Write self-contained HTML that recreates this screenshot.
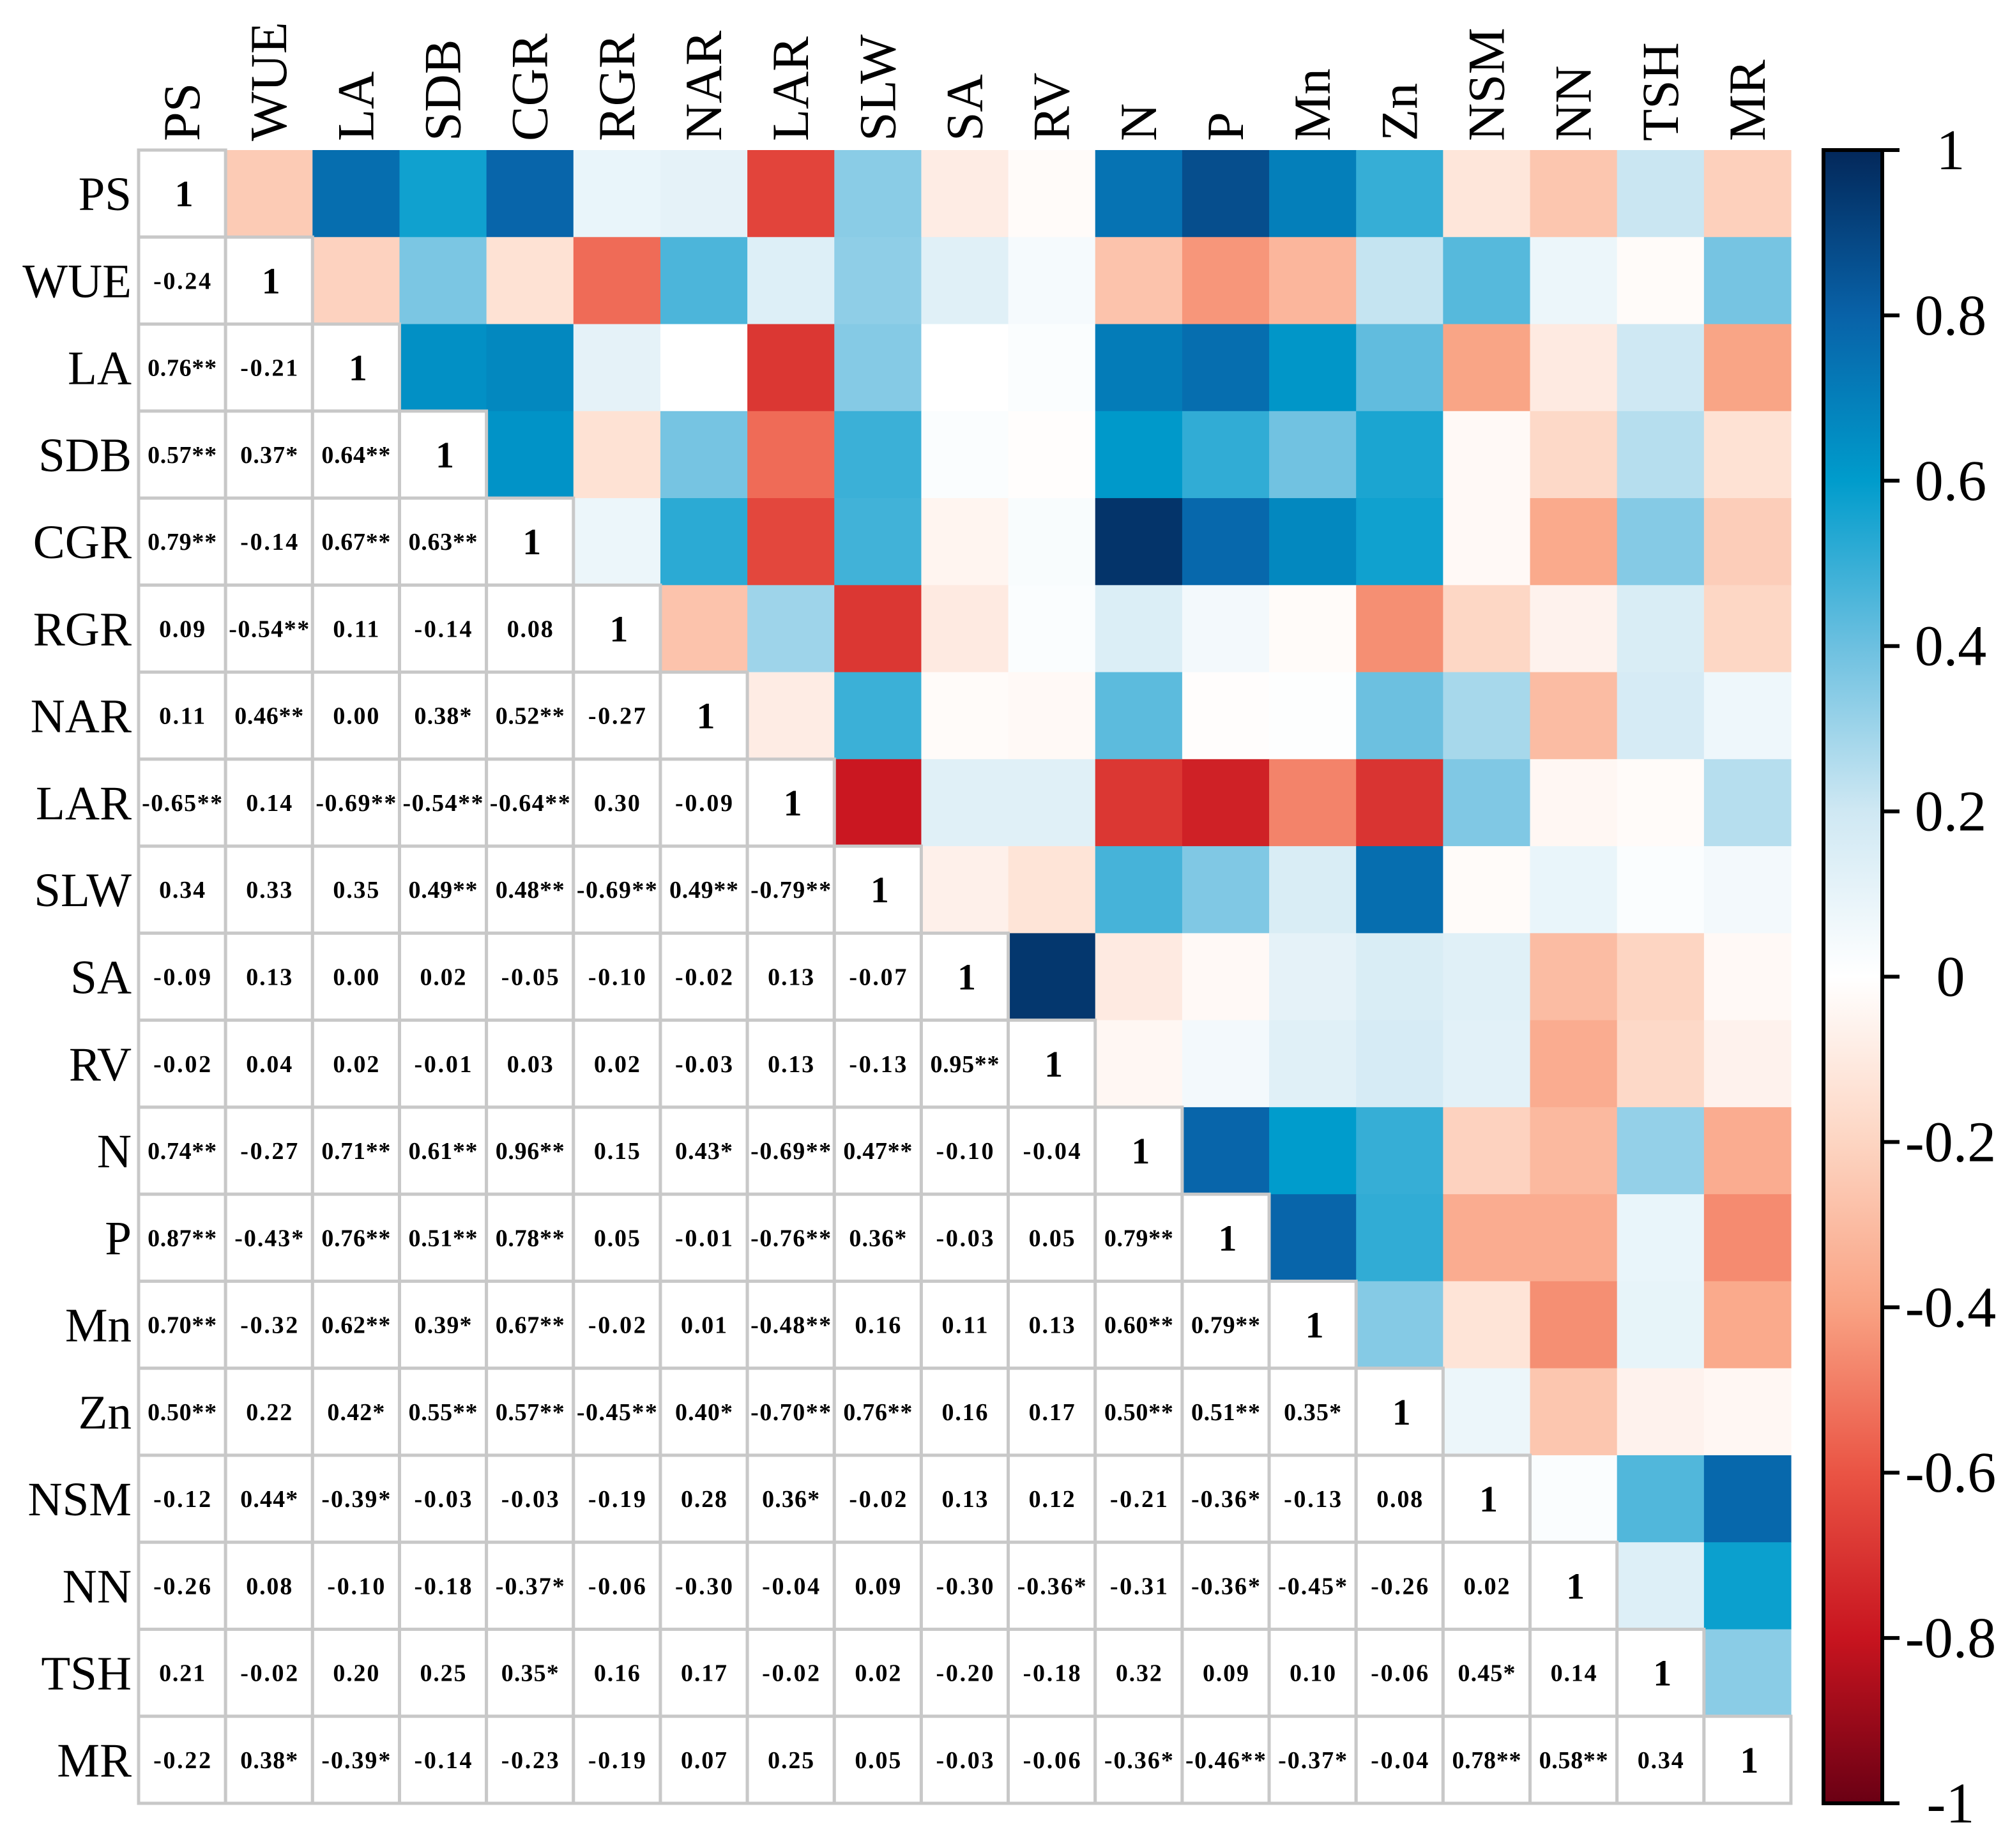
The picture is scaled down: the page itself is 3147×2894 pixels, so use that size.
<!DOCTYPE html>
<html><head><meta charset="utf-8"><style>
html,body{margin:0;padding:0;background:#fff;}
svg{display:block;}
text{font-family:"Liberation Serif",serif;fill:#000;}
</style></head><body>
<svg id="chart" width="3147" height="2894" viewBox="0 0 3147 2894" xmlns="http://www.w3.org/2000/svg">
<defs>
<linearGradient id="cbgrad" x1="0" y1="0" x2="0" y2="1">
<stop offset="0" stop-color="#03285a"/>
<stop offset="0.1" stop-color="#0862a8"/>
<stop offset="0.2" stop-color="#009ccc"/>
<stop offset="0.3" stop-color="#6cc0e0"/>
<stop offset="0.4" stop-color="#cfe8f3"/>
<stop offset="0.5" stop-color="#ffffff"/>
<stop offset="0.6" stop-color="#fdd5c2"/>
<stop offset="0.7" stop-color="#f9a283"/>
<stop offset="0.8" stop-color="#ea5444"/>
<stop offset="0.9" stop-color="#c8141f"/>
<stop offset="1" stop-color="#6a0014"/>
</linearGradient>
</defs>
<g id="cells"></g>
<g id="labels"></g>
<g id="cbar"></g>
</svg>
<script>
const variables = ["PS","WUE","LA","SDB","CGR","RGR","NAR","LAR","SLW","SA","RV","N","P","Mn","Zn","NSM","NN","TSH","MR"];
const lowerTriangle = [
[],
["-0.24"],
["0.76**","-0.21"],
["0.57**","0.37*","0.64**"],
["0.79**","-0.14","0.67**","0.63**"],
["0.09","-0.54**","0.11","-0.14","0.08"],
["0.11","0.46**","0.00","0.38*","0.52**","-0.27"],
["-0.65**","0.14","-0.69**","-0.54**","-0.64**","0.30","-0.09"],
["0.34","0.33","0.35","0.49**","0.48**","-0.69**","0.49**","-0.79**"],
["-0.09","0.13","0.00","0.02","-0.05","-0.10","-0.02","0.13","-0.07"],
["-0.02","0.04","0.02","-0.01","0.03","0.02","-0.03","0.13","-0.13","0.95**"],
["0.74**","-0.27","0.71**","0.61**","0.96**","0.15","0.43*","-0.69**","0.47**","-0.10","-0.04"],
["0.87**","-0.43*","0.76**","0.51**","0.78**","0.05","-0.01","-0.76**","0.36*","-0.03","0.05","0.79**"],
["0.70**","-0.32","0.62**","0.39*","0.67**","-0.02","0.01","-0.48**","0.16","0.11","0.13","0.60**","0.79**"],
["0.50**","0.22","0.42*","0.55**","0.57**","-0.45**","0.40*","-0.70**","0.76**","0.16","0.17","0.50**","0.51**","0.35*"],
["-0.12","0.44*","-0.39*","-0.03","-0.03","-0.19","0.28","0.36*","-0.02","0.13","0.12","-0.21","-0.36*","-0.13","0.08"],
["-0.26","0.08","-0.10","-0.18","-0.37*","-0.06","-0.30","-0.04","0.09","-0.30","-0.36*","-0.31","-0.36*","-0.45*","-0.26","0.02"],
["0.21","-0.02","0.20","0.25","0.35*","0.16","0.17","-0.02","0.02","-0.20","-0.18","0.32","0.09","0.10","-0.06","0.45*","0.14"],
["-0.22","0.38*","-0.39*","-0.14","-0.23","-0.19","0.07","0.25","0.05","-0.03","-0.06","-0.36*","-0.46**","-0.37*","-0.04","0.78**","0.58**","0.34"]
];
const colorbarTicks = [1,0.8,0.6,0.4,0.2,0,-0.2,-0.4,-0.6,-0.8,-1];
const colorbarTickLabels = ["1","0.8","0.6","0.4","0.2","0","-0.2","-0.4","-0.6","-0.8","-1"];

const NS = "http://www.w3.org/2000/svg";
const X0 = 217, X1 = 2804, Y0 = 235, Y1 = 2824;
const n = variables.length;
const cw = (X1 - X0) / n, ch = (Y1 - Y0) / n;
const xPos = j => X0 + j * cw;
const yPos = i => Y0 + i * ch;
const CB_X = 2855, CB_W = 92;
const cbY = v => Y0 + (1 - v) / 2 * (Y1 - Y0);

const stops = [[1,[3,40,90]],[0.8,[8,98,168]],[0.6,[0,156,204]],[0.4,[108,192,224]],[0.2,[207,232,243]],[0,[255,255,255]],[-0.2,[253,213,194]],[-0.4,[249,162,131]],[-0.6,[234,84,68]],[-0.8,[200,20,31]],[-1,[106,0,20]]];
function colorOf(v){
  v = Math.max(-1, Math.min(1, v));
  for (let k = 0; k < stops.length - 1; k++) {
    const [a, ca] = stops[k], [b, cb] = stops[k+1];
    if (v <= a && v >= b) {
      const t = (a - v) / (a - b);
      const c = ca.map((x, m) => Math.round(x + (cb[m] - x) * t));
      return `rgb(${c[0]},${c[1]},${c[2]})`;
    }
  }
  return "#fff";
}
function mk(tag, attrs, parent){
  const e = document.createElementNS(NS, tag);
  for (const k in attrs) e.setAttribute(k, attrs[k]);
  parent.appendChild(e);
  return e;
}
const cells = document.getElementById("cells");
const labels = document.getElementById("labels");
const cbar = document.getElementById("cbar");

for (let i = 0; i < n; i++) {
  for (let j = i + 1; j < n; j++) {
    const v = parseFloat(lowerTriangle[j][i]);
    const r = mk("rect", {x: xPos(j), y: yPos(i), width: cw + 0.6, height: ch + 0.6, fill: colorOf(v)}, cells);
    
    
  }
}
for (let i = 0; i < n; i++) {
  for (let j = 0; j <= i; j++) {
    const r = mk("rect", {x: xPos(j), y: yPos(i), width: cw, height: ch, fill: "#fff", stroke: "#c8c8c8", "stroke-width": 5}, cells);
    
    
    const diag = (i === j);
    const t = mk("text", {x: xPos(j) + cw/2 + (diag ? 3 : 0), y: yPos(i) + ch/2 + (diag ? 20 : 13), "text-anchor": "middle", "font-size": diag ? 58 : 38, "font-weight": "bold"}, cells);
    t.textContent = diag ? "1" : lowerTriangle[i][j];
    if (!diag) t.setAttribute("textLength", Math.min(cw - 10, t.textContent.length * 18));
    
    
  }
}
for (let i = 0; i < n; i++) {
  const rl = mk("text", {x: 206, y: yPos(i) + ch/2 + 26, "text-anchor": "end", "font-size": 75}, labels);
  rl.textContent = variables[i];
  
  
  const cx = xPos(i) + cw/2 + 27, cy = 221;
  const cl = mk("text", {x: cx, y: cy, "text-anchor": "start", "font-size": 82, transform: `rotate(-90 ${cx} ${cy})`}, labels);
  cl.textContent = variables[i];
  
  
}
const bar = mk("rect", {x: CB_X, y: Y0, width: CB_W, height: Y1 - Y0, fill: "url(#cbgrad)", stroke: "#000", "stroke-width": 6}, cbar);


for (let k = 0; k < colorbarTicks.length; k++) {
  const y = cbY(colorbarTicks[k]);
  const tk = mk("line", {x1: CB_X + CB_W, x2: CB_X + CB_W + 27, y1: y, y2: y, stroke: "#000", "stroke-width": 6}, cbar);
  
  
  const tl = mk("text", {x: 3054, y: y + 30, "text-anchor": "middle", "font-size": 90}, cbar);
  tl.textContent = colorbarTickLabels[k];
  
  
}
</script>
</body></html>
